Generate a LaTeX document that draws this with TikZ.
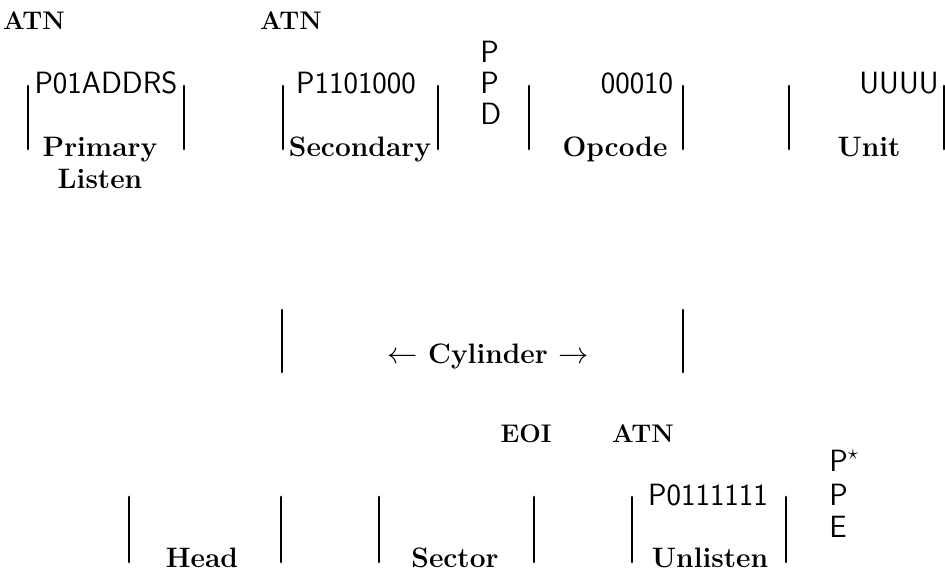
\documentclass[tikz,border=0pt]{standalone}
\usepackage{amssymb}
\usepackage{amsmath}
\usepackage{tikz}
\usetikzlibrary{positioning}

\begin{document}
\begin{tikzpicture}[x=0.02cm,y=-0.02cm,
    fieldbar/.style={line width=1.6pt,line cap=round},
    lbl/.style={font=\fontsize{16}{18}\selectfont\bfseries,anchor=base,inner sep=0pt},
    sig/.style={font=\fontsize{14.5}{16}\selectfont\bfseries,anchor=base,inner sep=0pt},
    bits/.style={font=\fontsize{17.5}{20}\selectfont\sffamily,anchor=base,inner sep=0pt}]
    \useasboundingbox (0,0) rectangle (945,573);

    % top row: primary listen, secondary, opcode, unit
    \foreach \x in {28,184,283,438,529,683,789,944}
      \draw[fieldbar] (\x,86) -- (\x,149);
    \node[sig] (atnA) at (34,30) {ATN};
    \node[sig] (atnB) at (291,30) {ATN};
    \node[bits] (listenbits) at (106,94) {P01ADDRS};
    \node[lbl] (primary) at (100,157) {Primary};
    \node[lbl] (listen) at (100,189) {Listen};
    \node[bits] (secbits) at (356,94) {P1101000};
    \node[lbl] (secondary) at (360,157) {Secondary};
    \node[bits,anchor=base west] (ppdA) at (480,63) {P};
    \node[bits,anchor=base west] (ppdB) at (480,94) {P};
    \node[bits,anchor=base west] (ppdC) at (480,125) {D};
    \node[bits] (opbits) at (637,94) {00010};
    \node[lbl] (opcode) at (615,157) {Opcode};
    \node[bits] (unitbits) at (899,94) {UUUU};
    \node[lbl] (unit) at (869,157) {Unit};

    % middle row: cylinder
    \draw[fieldbar] (282,310) -- (282,372);
    \draw[fieldbar] (683,310) -- (683,372);
    \node[lbl] (cyl) at (488,364) {$\leftarrow$ Cylinder $\rightarrow$};

    % bottom row: head, sector, unlisten
    \foreach \x in {129,281,379,534,632,786}
      \draw[fieldbar] (\x,497) -- (\x,562);
    \node[sig] (eoi) at (526,442) {EOI};
    \node[sig] (atnC) at (643,442) {ATN};
    \node[lbl] (head) at (202,567) {Head};
    \node[lbl] (sector) at (455,567) {Sector};
    \node[bits] (unlbits) at (708,505) {P0111111};
    \node[lbl] (unlisten) at (710,567) {Unlisten};
    \node[bits,anchor=base west] (ppeA) at (829,471) {P$^{\star}$};
    \node[bits,anchor=base west] (ppeB) at (829,505) {P};
    \node[bits,anchor=base west] (ppeC) at (829,537) {E};
\end{tikzpicture}
\end{document}
